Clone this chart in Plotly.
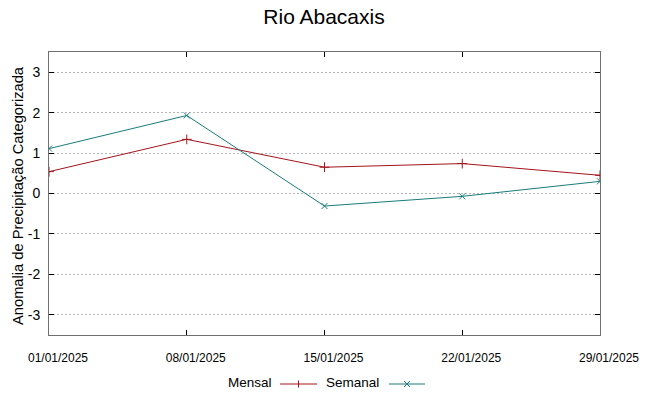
import plotly.graph_objects as go

dates = ["2025-01-01", "2025-01-08", "2025-01-15", "2025-01-22", "2025-01-29"]
tick_labels = ["01/01/2025", "08/01/2025", "15/01/2025", "22/01/2025", "29/01/2025"]
mensal = [0.54, 1.34, 0.65, 0.74, 0.45]
semanal = [1.11, 1.93, -0.31, -0.07, 0.30]
y_ticks = [-3, -2, -1, 0, 1, 2, 3]
y_tick_labels = ["-3", "-2", "-1", "0", "1", "2", "3"]

RED = "#a3141c"
TEAL = "#1a7b7b"
REG = "Liberation Sans, Arial, sans-serif"

W, H = 648, 396
L, R, T, B = 49, 600, 52, 335  # plot area in pixels


def px(x):
    return (x - L) / (R - L)


def py(y):
    return (B - y) / (B - T)


fig = go.Figure()
fig.add_trace(go.Scatter(
    x=dates, y=mensal, mode="lines+markers", name="Mensal",
    line=dict(color=RED, width=1),
    marker=dict(symbol="cross-thin", size=7, color=RED, line=dict(color=RED, width=1)),
    showlegend=False,
))
fig.add_trace(go.Scatter(
    x=dates, y=semanal, mode="lines+markers", name="Semanal",
    line=dict(color=TEAL, width=1),
    marker=dict(symbol="x-thin", size=6, color=TEAL, line=dict(color=TEAL, width=1)),
    showlegend=False,
))

# custom legend (text left of sample, gnuplot style)
ly = 384
shapes = []
annotations = []
for text, tx_right, x0, x1, col, sym in [
    ("Mensal", 274, 280, 317, RED, "+"),
    ("Semanal", 381, 389, 425, TEAL, "x"),
]:
    annotations.append(dict(x=px(tx_right), y=py(ly - 1.5), xref="paper", yref="paper",
                            text=text, showarrow=False, xanchor="right", yanchor="middle",
                            font=dict(family=REG, size=13.5, color="#000000")))
    shapes.append(dict(type="line", xref="paper", yref="paper",
                       x0=px(x0), x1=px(x1), y0=py(ly), y1=py(ly),
                       line=dict(color=col, width=1)))
    cx = (x0 + x1) / 2
    if sym == "+":
        shapes.append(dict(type="line", xref="paper", yref="paper",
                           x0=px(cx), x1=px(cx), y0=py(ly - 3.5), y1=py(ly + 3.5),
                           line=dict(color=col, width=1)))
    else:
        shapes.append(dict(type="line", xref="paper", yref="paper",
                           x0=px(cx - 3), x1=px(cx + 3), y0=py(ly - 3), y1=py(ly + 3),
                           line=dict(color=col, width=1)))
        shapes.append(dict(type="line", xref="paper", yref="paper",
                           x0=px(cx - 3), x1=px(cx + 3), y0=py(ly + 3), y1=py(ly - 3),
                           line=dict(color=col, width=1)))

# y axis title as rotated annotation
annotations.append(dict(x=px(18), y=py(196), xref="paper", yref="paper",
                        text="Anomalia de Precipitação Categorizada", textangle=-90,
                        showarrow=False, xanchor="center", yanchor="middle",
                        font=dict(family=REG, size=14.7, color="#000000")))

fig.update_layout(
    width=W, height=H,
    margin=dict(l=L, r=W - R, t=T, b=H - B, autoexpand=False),
    paper_bgcolor="white", plot_bgcolor="white",
    showlegend=False,
    title=dict(text="Rio Abacaxis", x=0.5, xanchor="center", y=1 - 17 / H, yanchor="middle",
               font=dict(family=REG, size=21, color="#000000")),
    shapes=shapes,
    annotations=annotations,
    xaxis=dict(
        type="date", range=[dates[0], dates[-1]],
        tickvals=dates, ticktext=tick_labels, automargin=False,
        showgrid=False, zeroline=False,
        showline=True, linecolor="#707070", linewidth=1, mirror="allticks",
        ticks="inside", ticklen=5, tickcolor="#000000", tickwidth=1,
        ticklabelstandoff=12, ticklabelshift=9,
        tickfont=dict(family=REG, size=12, color="#000000"),
    ),
    yaxis=dict(
        range=[-3.5, 3.5], tickvals=y_ticks, ticktext=y_tick_labels, automargin=False,
        showgrid=True, gridcolor="#b4b4b4", griddash="2px,2px", gridwidth=1,
        zeroline=False,
        showline=True, linecolor="#707070", linewidth=1, mirror="allticks",
        ticks="inside", ticklen=5, tickcolor="#000000", tickwidth=1,
        ticklabelstandoff=5,
        tickfont=dict(family=REG, size=14, color="#000000"),
    ),
)

fig.write_html("out.html", config={"displayModeBar": False},
               post_script="document.body.style.margin='0';document.body.style.padding='0';")
